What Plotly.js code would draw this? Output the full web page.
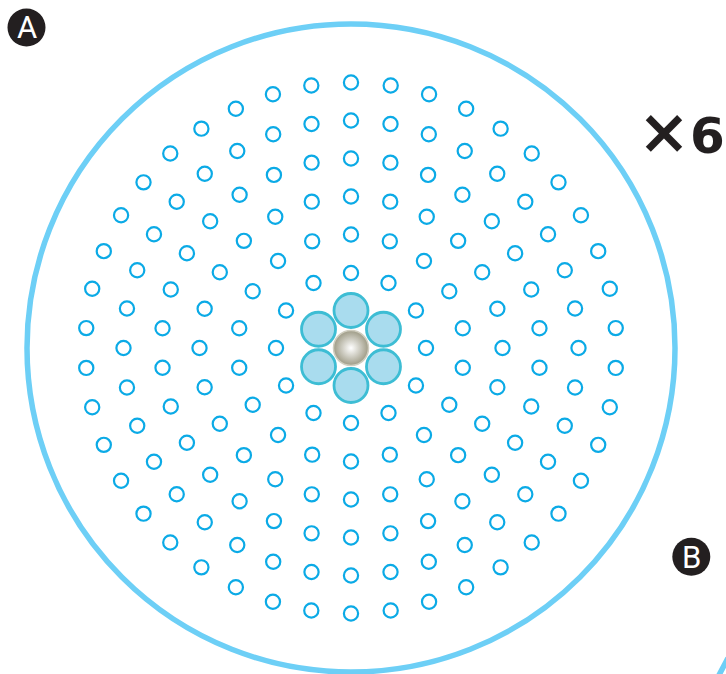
<!DOCTYPE html>
<html>
<head>
<meta charset="utf-8">
<script src="https://cdn.plot.ly/plotly-3.0.1.min.js"></script>
<style>html,body{margin:0;padding:0;background:#fff;}#chart{width:726px;height:674px;}</style>
</head>
<body>
<div id="chart"></div>
<script>
// ---- data (r in px from centre, theta in degrees) ----
var ringRadii = [75, 113.5, 151.5, 189.5, 227.5, 265.5];
var ring1Theta = [90,60,30,0,330,300,270,240,210,180,150,120];
var ring2Theta = [90,70,50,30,10,350,330,310,290,270,250,230,210,190,170,150,130,110];
var ring3Theta = [90,75,60,45,30,15,0,345,330,315,300,285,270,255,240,225,210,195,180,165,150,135,120,105];
var ring4Theta = [90,78,66,54,42,30,18,6,354,342,330,318,306,294,282,270,258,246,234,222,210,198,186,174,162,150,138,126,114,102];
var ring5Theta = [90,80,70,60,50,40,30,20,10,0,350,340,330,320,310,300,290,280,270,260,250,240,230,220,210,200,190,180,170,160,150,140,130,120,110,100];
var ring6Theta = [90,81.4,72.9,64.3,55.7,47.1,38.6,30,21.4,12.9,4.3,355.7,347.1,338.6,330,321.4,312.9,304.3,295.7,287.1,278.6,270,261.4,252.9,244.3,235.7,227.1,218.6,210,201.4,192.9,184.3,175.7,167.1,158.6,150,141.4,132.9,124.3,115.7,107.1,98.6];
var innerR = [37.5,37.5,37.5,37.5,37.5,37.5];
var innerTheta = [90,30,330,270,210,150];
var coreR = [0];
var coreTheta = [0];
var labelA = "A", labelB = "B", labelTimes = "×", labelSix = "6";

var ringThetas = [ring1Theta, ring2Theta, ring3Theta, ring4Theta, ring5Theta, ring6Theta];

var W = 726, H = 674;
function px(x){return x/W;}
function py(y){return (H-y)/H;}

var traces = [];
ringThetas.forEach(function(th, i){
  traces.push({
    type:'scatterpolar', mode:'markers',
    r: th.map(function(){return ringRadii[i];}),
    theta: th,
    marker:{symbol:'circle', size:14.2, color:'rgba(255,255,255,0)', line:{color:'#0BAAE6', width:2.2}},
    hoverinfo:'skip', showlegend:false
  });
});
traces.push({
  type:'scatterpolar', mode:'markers', r:coreR, theta:coreTheta,
  marker:{symbol:'circle', size:35, color:'#9E9B86', gradient:{type:'radial', color:'#FFFFFF'}, line:{color:'#CFCDBF', width:1.5}},
  hoverinfo:'skip', showlegend:false
});
traces.push({
  type:'scatterpolar', mode:'markers', r:innerR, theta:innerTheta,
  marker:{symbol:'circle', size:34, color:'#A9DCEE', line:{color:'#3DBDD4', width:2.8}},
  hoverinfo:'skip', showlegend:false
});

var cx = 351, cy = 348, R = 324;
var layout = {
  width: W, height: H,
  margin:{l:0,r:0,t:0,b:0},
  paper_bgcolor:'#ffffff',
  showlegend:false,
  polar:{
    domain:{x:[px(cx-R), px(cx+R)], y:[py(cy+R), py(cy-R)]},
    bgcolor:'rgba(0,0,0,0)',
    hole:0,
    radialaxis:{range:[0,R], visible:false, showgrid:false, showline:false, showticklabels:false, ticks:''},
    angularaxis:{showgrid:false, showticklabels:false, ticks:'', showline:true, linecolor:'#6DCFF6', linewidth:5.5}
  },
  shapes:[
    {type:'circle', xref:'paper', yref:'paper', x0:px(7.5), x1:px(45.5), y0:py(46.5), y1:py(8.5), fillcolor:'#231F20', line:{width:0}},
    {type:'circle', xref:'paper', yref:'paper', x0:px(672.3), x1:px(710.3), y0:py(575.8), y1:py(537.8), fillcolor:'#231F20', line:{width:0}},
    {type:'line', xref:'paper', yref:'paper', x0:px(718.5), y0:py(676), x1:px(728), y1:py(658), line:{color:'#6DCFF6', width:5.5}}
  ],
  annotations:[
    {xref:'paper', yref:'paper', x:px(26.5), y:py(28), text:labelA, showarrow:false, xanchor:'center', yanchor:'middle',
     font:{family:'Liberation Sans Narrow, Roboto, sans-serif', size:31, color:'#ffffff'}},
    {xref:'paper', yref:'paper', x:px(691.5), y:py(557), text:labelB, showarrow:false, xanchor:'center', yanchor:'middle',
     font:{family:'Liberation Sans Narrow, Roboto, sans-serif', size:31, color:'#ffffff'}},
    {xref:'paper', yref:'paper', x:px(725.5), y:py(131), text:'<span style="font-size:62px">' + labelTimes + '</span>' + labelSix,
     showarrow:false, xanchor:'right', yanchor:'middle', borderpad:0,
     font:{family:'DejaVu Sans, sans-serif', size:50, color:'#231F20', weight:'bold'}}
  ]
};

Plotly.newPlot('chart', traces, layout, {displayModeBar:false, staticPlot:true});
</script>
</body>
</html>
